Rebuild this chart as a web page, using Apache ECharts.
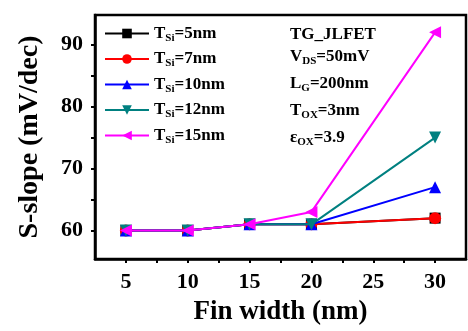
<!DOCTYPE html>
<html><head><meta charset="utf-8">
<script src="https://cdn.jsdelivr.net/npm/echarts@6/dist/echarts.min.js"></script>
<style>html,body{margin:0;padding:0;background:#fff}#c{width:468px;height:331px}</style>
</head><body><div id="c"></div>
<script>
const finWidth = [5, 10, 15, 20, 30];
const tsi5  = [60, 60, 61, 61, 62];
const tsi7  = [60, 60, 61, 61, 62];
const tsi10 = [60, 60, 61, 61, 67];
const tsi12 = [60, 60, 61, 61, 75];
const tsi15 = [60, 60, 61, 63, 92];
const seriesNames = ['5', '7', '10', '12', '15'];
const xTickLabels = [5, 10, 15, 20, 25, 30];
const yTickLabels = [60, 70, 80, 90];

const F = '"Liberation Serif", "Times New Roman", serif';
const colors = ['#000000', '#ff0000', '#0000ff', '#008080', '#ff00ff'];
const symbols = ['rect', 'circle', 'triangle', 'triangle', 'triangle'];
const rots = [0, 0, 0, 180, 90];
const allData = [tsi5, tsi7, tsi10, tsi12, tsi15];

const series = allData.map((vals, i) => ({
  name: seriesNames[i],
  type: 'line',
  data: finWidth.map((x, j) => [x, vals[j]]),
  symbol: symbols[i],
  symbolRotate: rots[i],
  symbolSize: i === 0 ? 11 : 12,
  lineStyle: { color: colors[i], width: 2 },
  itemStyle: { color: colors[i] },
  z: 2 + i
}));

const chart = echarts.init(document.getElementById('c'), null, { renderer: 'canvas' });
const sub = { fontFamily: F, fontWeight: 'bold', fontSize: 11, verticalAlign: 'bottom', padding: [9, 0, 0, 0], color: '#000' };
const main = { fontFamily: F, fontWeight: 'bold', fontSize: 17, color: '#000' };
chart.setOption({
  animation: false,
  grid: { left: 95, right: 2, top: 15, bottom: 71, show: true, borderColor: '#000', borderWidth: 2.5, backgroundColor: 'transparent' },
  xAxis: {
    type: 'value', min: 2.5, max: 32.5,
    name: 'Fin width (nm)', nameLocation: 'middle', nameGap: 40,
    nameTextStyle: { fontFamily: F, fontWeight: 'bold', fontSize: 27, color: '#000' },
    axisLine: { lineStyle: { color: '#000', width: 2.5 } },
    axisTick: { show: true, inside: false, length: 4, lineStyle: { color: '#000', width: 2 }, customValues: [5, 7.5, 10, 12.5, 15, 17.5, 20, 22.5, 25, 27.5, 30] },
    axisLabel: { customValues: xTickLabels, fontFamily: F, fontWeight: 'bold', fontSize: 22, color: '#000', margin: 12 },
    splitLine: { show: false }
  },
  yAxis: {
    type: 'value', min: 55.4, max: 94.8,
    name: 'S-slope (mV/dec)', nameLocation: 'middle', nameGap: 51,
    nameTextStyle: { fontFamily: F, fontWeight: 'bold', fontSize: 28, color: '#000' },
    axisLine: { show: true, lineStyle: { color: '#000', width: 2.5 } },
    axisTick: { show: true, inside: false, length: 4, lineStyle: { color: '#000', width: 2 }, customValues: [60, 65, 70, 75, 80, 85, 90] },
    axisLabel: { customValues: yTickLabels, fontFamily: F, fontWeight: 'bold', fontSize: 22, color: '#000', margin: 12 },
    splitLine: { show: false }
  },
  legend: {
    left: 99, top: 20, orient: 'vertical', itemGap: 7, itemWidth: 44, itemHeight: 12,
    data: seriesNames,
    formatter: n => '{m|T}{s|Si}{m|=' + n + 'nm}',
    textStyle: { rich: { m: main, s: sub }, color: '#000' }
  },
  graphic: [
    { type: 'text', left: 290, top: 26, style: { text: '{m|TG_JLFET}', rich: { m: main } } },
    { type: 'text', left: 290, top: 48, style: { text: '{m|V}{s|DS}{m|=50mV}', rich: { m: main, s: sub } } },
    { type: 'text', left: 290, top: 75, style: { text: '{m|L}{s|G}{m|=200nm}', rich: { m: main, s: sub } } },
    { type: 'text', left: 290, top: 102, style: { text: '{m|T}{s|OX}{m|=3nm}', rich: { m: main, s: sub } } },
    { type: 'text', left: 290, top: 129, style: { text: '{m|ε}{s|OX}{m|=3.9}', rich: { m: main, s: sub } } }
  ],
  series
});
</script></body></html>
